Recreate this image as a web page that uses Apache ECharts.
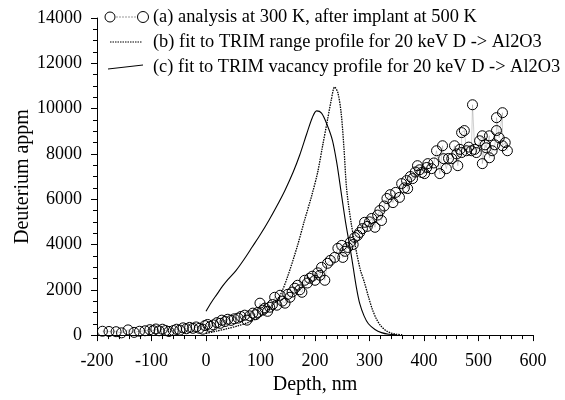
<!DOCTYPE html>
<html>
<head>
<meta charset="utf-8">
<script src="https://cdn.jsdelivr.net/npm/echarts@6/dist/echarts.min.js"></script>
<style>
  html, body { margin: 0; padding: 0; background: #fff; }
  #chart { width: 565px; height: 400px; }
</style>
</head>
<body>
<div id="chart"></div>
<script>
// (a) analysis data points
const depthA = [-190, -178, -165, -155, -143, -132, -122, -112, -103, -97, -92, -86, -80, -74, -68, -60, -54, -48, -42, -36, -30, -24, -18, -12, -6, -2, 3, 8,
  14, 20, 26, 29, 35, 40, 46, 52, 59, 64, 71, 75, 80, 86, 91, 95, 99, 104, 108, 113, 117, 122, 126, 130, 136, 140, 145, 150, 154, 158, 163, 168, 172, 176,
  181, 186, 190, 195, 200, 205, 209, 212, 218, 223, 228, 236, 242, 249, 251, 255, 260, 265, 270, 273, 278, 282, 287, 291, 296, 300, 304, 310, 315, 319,
  322, 327, 332, 338, 343, 348, 355, 359, 364, 368, 370, 375, 379, 384, 388, 392, 396, 401, 405, 407, 414, 418, 423, 429, 434, 436, 441, 445, 451, 456,
  460, 462, 466, 469, 469, 474, 478, 482, 487, 489, 493, 496, 502, 507, 507, 512, 514, 520, 520, 525, 530, 533, 533, 538, 544, 544, 549, 553];
const appmA = [170, 160, 150, 100, 230, 120, 170, 190, 240, 200, 270, 190, 260, 200, 160, 200, 260, 220, 320, 280, 340, 300, 360, 300, 260, 420, 470, 380,
  450, 550, 520, 660, 600, 700, 650, 720, 750, 820, 880, 660, 850, 970, 900, 1000, 1410, 1100, 1190, 1050, 1230, 1350, 1670, 1320, 1760, 1500, 1410, 1800, 1670, 1900, 2070, 2200, 2000, 1890,
  2420, 2300, 2510, 2600, 2420, 2750, 2640, 2990, 2420, 3170, 3300, 3430, 3830, 3960, 3430, 3700, 3870, 4100, 4000, 4310, 4400, 4530, 4700, 4980, 4800, 5000, 5150, 4760, 5300, 5500,
  5060, 5700, 6030, 6200, 5850, 6300, 6080, 6690, 6500, 6820, 6470, 7000, 6910, 7200, 7480, 7300, 7180, 7130, 7400, 7570, 7350, 7600, 8140, 7130, 8360, 7790, 7350, 7800, 7790, 8360,
  8000, 7480, 8200, 8060, 8940, 9030, 8140, 8300, 8140, 10170, 8200, 8060, 8580, 8800, 7570, 8400, 8270, 8800, 7830, 8140, 8400, 9030, 9600, 8710, 9820, 8360, 8500, 8140];

// (b) fit to TRIM range profile
const depthB = [0, 20, 40, 60, 80, 100, 120, 136, 150, 168, 180, 194, 205, 214, 222, 230, 236, 242, 248, 253, 258, 266, 275, 283, 291, 298, 305, 312, 320, 330, 340, 350, 360];
const appmB = [80, 180, 290, 420, 580, 830, 1250, 1760, 2600, 3960, 5000, 6160, 7200, 8360, 9380, 10400, 10950, 10700, 9800, 8300, 6460, 5000, 3800, 2900, 2300, 1700, 1150, 750, 430, 200, 90, 35, 10];

// (c) fit to TRIM vacancy profile
const depthC = [0, 10, 20, 30, 40, 55, 70, 85, 100, 115, 130, 145, 160, 172, 185, 195, 203, 212, 222, 232, 240, 248, 256, 264, 270, 276, 282, 290, 298, 310, 322, 335, 350];
const appmC = [1050, 1450, 1800, 2150, 2450, 2850, 3350, 3900, 4450, 5050, 5700, 6400, 7200, 7950, 8900, 9600, 9900, 9800, 9300, 8600, 7600, 6300, 5000, 3900, 3000, 2100, 1400, 850, 500, 250, 110, 40, 10];

const xTicks = { min: -200, max: 600, step: 100 };
const yTicks = { min: 0, max: 14000, step: 2000 };

const legendLabels = [
  '(a) analysis at 300 K, after implant at 500 K',
  '(b) fit to TRIM range profile for 20 keV D -> Al2O3',
  '(c) fit to TRIM vacancy profile for 20 keV D -> Al2O3'
];

const FONT = '"Liberation Serif", "DejaVu Serif", serif';
const FS = 18;
const pairs = (xs, ys) => xs.map((x, i) => [x, ys[i]]);

const chart = echarts.init(document.getElementById('chart'), null, { renderer: 'canvas' });

const axisCommon = {
  axisLine: { show: true, onZero: false, lineStyle: { color: '#000', width: 1 } },
  axisTick: { show: true, inside: false, length: 6, lineStyle: { color: '#000', width: 1 } },
  minorTick: { show: true, length: 4, lineStyle: { color: '#000', width: 1 } },
  splitLine: { show: false },
  axisLabel: { color: '#000', fontFamily: FONT, fontSize: FS, formatter: v => String(v) },
  nameTextStyle: { color: '#000', fontFamily: FONT, fontSize: 20 }
};

// legend drawn by hand so (a) can show circle - line - circle
const legendGraphics = [];
const rowY = [17, 42, 67];
legendGraphics.push(
  { type: 'line', shape: { x1: 110, y1: rowY[0], x2: 143, y2: rowY[0] }, style: { stroke: '#555', lineWidth: 0.6, lineDash: [2, 1] } },
  { type: 'circle', shape: { cx: 110, cy: rowY[0], r: 5 }, style: { fill: '#fff', stroke: '#000', lineWidth: 1 } },
  { type: 'circle', shape: { cx: 143, cy: rowY[0], r: 5.5 }, style: { fill: '#fff', stroke: '#000', lineWidth: 1 } },
  { type: 'line', shape: { x1: 110, y1: rowY[1], x2: 142, y2: rowY[1] }, style: { stroke: '#000', lineWidth: 1.2, lineDash: [1.5, 1] } },
  { type: 'line', shape: { x1: 108, y1: rowY[2] + 2, x2: 143, y2: rowY[2] - 2 }, style: { stroke: '#000', lineWidth: 1 } }
);
legendLabels.forEach((t, i) => {
  legendGraphics.push({
    type: 'text', x: 153, y: rowY[i],
    style: { text: t, fill: '#000', font: '18.4px ' + FONT, verticalAlign: 'middle' }
  });
});

chart.setOption({
  animation: false,
  backgroundColor: '#fff',
  grid: { left: 97, right: 32, top: 18, bottom: 61, containLabel: false },
  xAxis: Object.assign({}, axisCommon, {
    type: 'value', min: xTicks.min, max: xTicks.max, interval: xTicks.step,
    minorTick: Object.assign({}, axisCommon.minorTick, { splitNumber: 5 }),
    axisLabel: Object.assign({}, axisCommon.axisLabel, { margin: 17 }),
    name: 'Depth, nm', nameLocation: 'middle', nameGap: 37
  }),
  yAxis: Object.assign({}, axisCommon, {
    type: 'value', min: yTicks.min, max: yTicks.max, interval: yTicks.step,
    minorTick: Object.assign({}, axisCommon.minorTick, { splitNumber: 4 }),
    axisLabel: Object.assign({}, axisCommon.axisLabel, { margin: 15 }),
    name: 'Deuterium appm', nameLocation: 'middle', nameGap: 64, nameMoveOverlap: false
  }),
  graphic: legendGraphics,
  series: [
    {
      name: legendLabels[0], type: 'line', data: pairs(depthA, appmA),
      symbol: 'circle', symbolSize: 10, showAllSymbol: true,
      itemStyle: { color: 'rgba(0,0,0,0)', borderColor: '#000', borderWidth: 1 },
      lineStyle: { color: '#888', width: 0.4 },
      z: 3
    },
    {
      name: legendLabels[1], type: 'line', data: pairs(depthB, appmB),
      smooth: 0.3, showSymbol: false,
      lineStyle: { color: '#000', width: 1.3, type: [1.5, 1] }
    },
    {
      name: legendLabels[2], type: 'line', data: pairs(depthC, appmC),
      smooth: 0.3, showSymbol: false,
      lineStyle: { color: '#000', width: 1.1 }
    }
  ]
});
</script>
</body>
</html>
